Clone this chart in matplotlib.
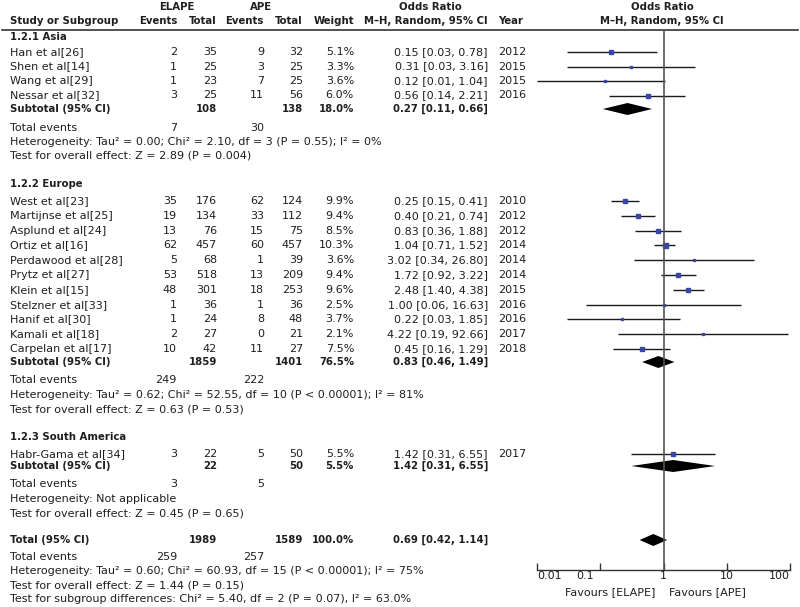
import numpy as np
import matplotlib
matplotlib.use("Agg")
import matplotlib.pyplot as plt
from matplotlib.transforms import ScaledTranslation

# ---------------- data ----------------
studies_asia = ["Han et al[26]", "Shen et al[14]", "Wang et al[29]", "Nessar et al[32]"]
ev_e_asia = [2, 1, 1, 3]
tot_e_asia = [35, 25, 23, 25]
ev_c_asia = [9, 3, 7, 11]
tot_c_asia = [32, 25, 25, 56]
w_asia = [5.1, 3.3, 3.6, 6.0]
or_asia = [0.15, 0.31, 0.12, 0.56]
lo_asia = [0.03, 0.03, 0.01, 0.14]
hi_asia = [0.78, 3.16, 1.04, 2.21]
yr_asia = [2012, 2015, 2015, 2016]
sub_asia = dict(te=108, tc=138, w=18.0, orr=0.27, lo=0.11, hi=0.66, ee=7, ec=30,
                het="Heterogeneity: Tau\u00b2 = 0.00; Chi\u00b2 = 2.10, df = 3 (P = 0.55); I\u00b2 = 0%",
                test="Test for overall effect: Z = 2.89 (P = 0.004)")

studies_eu = ["West et al[23]", "Martijnse et al[25]", "Asplund et al[24]", "Ortiz et al[16]",
              "Perdawood et al[28]", "Prytz et al[27]", "Klein et al[15]", "Stelzner et al[33]",
              "Hanif et al[30]", "Kamali et al[18]", "Carpelan et al[17]"]
ev_e_eu = [35, 19, 13, 62, 5, 53, 48, 1, 1, 2, 10]
tot_e_eu = [176, 134, 76, 457, 68, 518, 301, 36, 24, 27, 42]
ev_c_eu = [62, 33, 15, 60, 1, 13, 18, 1, 8, 0, 11]
tot_c_eu = [124, 112, 75, 457, 39, 209, 253, 36, 48, 21, 27]
w_eu = [9.9, 9.4, 8.5, 10.3, 3.6, 9.4, 9.6, 2.5, 3.7, 2.1, 7.5]
or_eu = [0.25, 0.40, 0.83, 1.04, 3.02, 1.72, 2.48, 1.00, 0.22, 4.22, 0.45]
lo_eu = [0.15, 0.21, 0.36, 0.71, 0.34, 0.92, 1.40, 0.06, 0.03, 0.19, 0.16]
hi_eu = [0.41, 0.74, 1.88, 1.52, 26.80, 3.22, 4.38, 16.63, 1.85, 92.66, 1.29]
yr_eu = [2010, 2012, 2012, 2014, 2014, 2014, 2015, 2016, 2016, 2017, 2018]
sub_eu = dict(te=1859, tc=1401, w=76.5, orr=0.83, lo=0.46, hi=1.49, ee=249, ec=222,
              het="Heterogeneity: Tau\u00b2 = 0.62; Chi\u00b2 = 52.55, df = 10 (P < 0.00001); I\u00b2 = 81%",
              test="Test for overall effect: Z = 0.63 (P = 0.53)")

studies_sa = ["Habr-Gama et al[34]"]
ev_e_sa = [3]
tot_e_sa = [22]
ev_c_sa = [5]
tot_c_sa = [50]
w_sa = [5.5]
or_sa = [1.42]
lo_sa = [0.31]
hi_sa = [6.55]
yr_sa = [2017]
sub_sa = dict(te=22, tc=50, w=5.5, orr=1.42, lo=0.31, hi=6.55, ee=3, ec=5,
              het="Heterogeneity: Not applicable",
              test="Test for overall effect: Z = 0.45 (P = 0.65)")

total = dict(te=1989, tc=1589, w=100.0, orr=0.69, lo=0.42, hi=1.14, ee=259, ec=257,
             het="Heterogeneity: Tau\u00b2 = 0.60; Chi\u00b2 = 60.93, df = 15 (P < 0.00001); I\u00b2 = 75%",
             test="Test for overall effect: Z = 1.44 (P = 0.15)",
             sub="Test for subgroup differences: Chi\u00b2 = 5.40, df = 2 (P = 0.07), I\u00b2 = 63.0%")

xticks = [0.01, 0.1, 1, 10, 100]
xticklabels = ["0.01", "0.1", "1", "10", "100"]

# ---------------- layout ----------------
W, H = 800, 607
fig = plt.figure(figsize=(W / 100, H / 100), dpi=100)
fig.patch.set_facecolor("white")
at = fig.add_axes([0, 0, 1, 1])
at.set_xlim(0, W)
at.set_ylim(H, 0)
at.axis("off")

X0, X1 = 537, 790
af = fig.add_axes([X0 / W, 0, (X1 - X0) / W, 1])
af.set_xscale("log")
af.set_xlim(0.01, 100)
af.set_ylim(H, 0)
af.patch.set_alpha(0)

TC = "#1e1e1e"
FS = 8.0
BLUE = "#3846a8"

X_NAME = 10
X_EE, X_TE, X_EC, X_TC, X_W, X_OR, X_YR = 177, 217, 264, 303, 354, 488, 498


def t(x, y, s, ha="left", bold=False, size=FS):
    if bold:
        at.text(x, y, s, ha=ha, va="center", fontsize=size - 0.7, color=TC,
                fontweight="bold")
    else:
        at.text(x, y, s, ha=ha, va="center", fontsize=size, color=TC)


def fmt_or(o, l, h):
    return f"{o:.2f} [{l:.2f}, {h:.2f}]"


# headers
t(177, 7, "ELAPE", ha="center", bold=True)
t(261, 7, "APE", ha="center", bold=True)
t(430, 7, "Odds Ratio", ha="center", bold=True)
t(662, 7, "Odds Ratio", ha="center", bold=True)
t(X_NAME, 21, "Study or Subgroup", bold=True)
t(X_EE, 21, "Events", ha="right", bold=True)
t(X_TE, 21, "Total", ha="right", bold=True)
t(X_EC, 21, "Events", ha="right", bold=True)
t(X_TC, 21, "Total", ha="right", bold=True)
t(X_W, 21, "Weight", ha="right", bold=True)
t(X_OR, 21, "M\u2013H, Random, 95% CI", ha="right", bold=True)
t(X_YR, 21, "Year", bold=True)
t(662, 21, "M\u2013H, Random, 95% CI", ha="center", bold=True)
at.plot([2, 798], [29.5, 29.5], color="#333333", lw=1.2)


def diamond(y, o, l, h, hh=6):
    af.fill([l, o, h, o], [y, y - hh, y, y + hh], color="black", lw=0)


def group(title, ytitle, ys, names, ee, te, ec, tc, w, orr, lo, hi, yr, sub, ysub, yinfo):
    t(X_NAME, ytitle, title, bold=True)
    for i, y in enumerate(ys):
        t(X_NAME, y, names[i])
        t(X_EE, y, str(ee[i]), ha="right")
        t(X_TE, y, str(te[i]), ha="right")
        t(X_EC, y, str(ec[i]), ha="right")
        t(X_TC, y, str(tc[i]), ha="right")
        t(X_W, y, f"{w[i]:.1f}%", ha="right")
        t(X_OR, y, fmt_or(orr[i], lo[i], hi[i]), ha="right")
        t(X_YR, y, str(yr[i]))
        af.plot([lo[i], hi[i]], [y, y], color="#1a1a1a", lw=1.0, solid_capstyle="butt")
        ms = 3.6 * np.sqrt(w[i] / 10.3)
        af.plot([orr[i]], [y], marker="s", ms=ms, color=BLUE, mec=BLUE, lw=0)
    t(X_NAME, ysub, "Subtotal (95% CI)", bold=True)
    t(X_TE, ysub, str(sub["te"]), ha="right", bold=True)
    t(X_TC, ysub, str(sub["tc"]), ha="right", bold=True)
    t(X_W, ysub, f"{sub['w']:.1f}%", ha="right", bold=True)
    t(X_OR, ysub, fmt_or(sub["orr"], sub["lo"], sub["hi"]), ha="right", bold=True)
    diamond(ysub, sub["orr"], sub["lo"], sub["hi"])
    t(X_NAME, yinfo[0], "Total events")
    t(X_EE, yinfo[0], str(sub["ee"]), ha="right")
    t(X_EC, yinfo[0], str(sub["ec"]), ha="right")
    t(X_NAME, yinfo[1], sub["het"])
    t(X_NAME, yinfo[2], sub["test"])


group("1.2.1 Asia", 37, [52, 66.5, 81, 95.5], studies_asia, ev_e_asia, tot_e_asia, ev_c_asia,
      tot_c_asia, w_asia, or_asia, lo_asia, hi_asia, yr_asia, sub_asia, 109, [128, 142, 156])

ys_eu = [201 + 14.8 * i for i in range(len(studies_eu))]
group("1.2.2 Europe", 184, ys_eu, studies_eu, ev_e_eu, tot_e_eu, ev_c_eu, tot_c_eu, w_eu,
      or_eu, lo_eu, hi_eu, yr_eu, sub_eu, 362, [380, 394.5, 409])

group("1.2.3 South America", 437, [454], studies_sa, ev_e_sa, tot_e_sa, ev_c_sa, tot_c_sa, w_sa,
      or_sa, lo_sa, hi_sa, yr_sa, sub_sa, 466, [484, 498.5, 513])

yT = 540
t(X_NAME, yT, "Total (95% CI)", bold=True)
t(X_TE, yT, str(total["te"]), ha="right", bold=True)
t(X_TC, yT, str(total["tc"]), ha="right", bold=True)
t(X_W, yT, f"{total['w']:.1f}%", ha="right", bold=True)
t(X_OR, yT, fmt_or(total["orr"], total["lo"], total["hi"]), ha="right", bold=True)
diamond(yT, total["orr"], total["lo"], total["hi"])
t(X_NAME, 557, "Total events")
t(X_EE, 557, str(total["ee"]), ha="right")
t(X_EC, 557, str(total["ec"]), ha="right")
t(X_NAME, 571, total["het"])
t(X_NAME, 585, total["test"])
t(X_NAME, 599, total["sub"])

# reference line and axis
YAX = 570
af.plot([1, 1], [30, YAX], color="#555555", lw=1.2)
for s in ["top", "left", "right"]:
    af.spines[s].set_visible(False)
af.spines["bottom"].set_position(("data", YAX))
af.spines["bottom"].set_color("#333333")
af.spines["bottom"].set_linewidth(1.0)
af.set_yticks([])
af.set_xticks(xticks)
af.set_xticklabels(xticklabels)
af.minorticks_off()
af.tick_params(axis="x", direction="in", length=5, width=1.0, color="#333333",
               labelsize=FS, labelcolor=TC, pad=1)
labs = af.get_xticklabels()
labs[0].set_horizontalalignment("left")
labs[-1].set_horizontalalignment("right")
labs[1].set_transform(labs[1].get_transform() + ScaledTranslation(-0.15, 0, fig.dpi_scale_trans))
t(655, 592, "Favours [ELAPE]", ha="right")
t(669, 592, "Favours [APE]", ha="left")

fig.savefig("out.png", dpi=100, facecolor="white")
